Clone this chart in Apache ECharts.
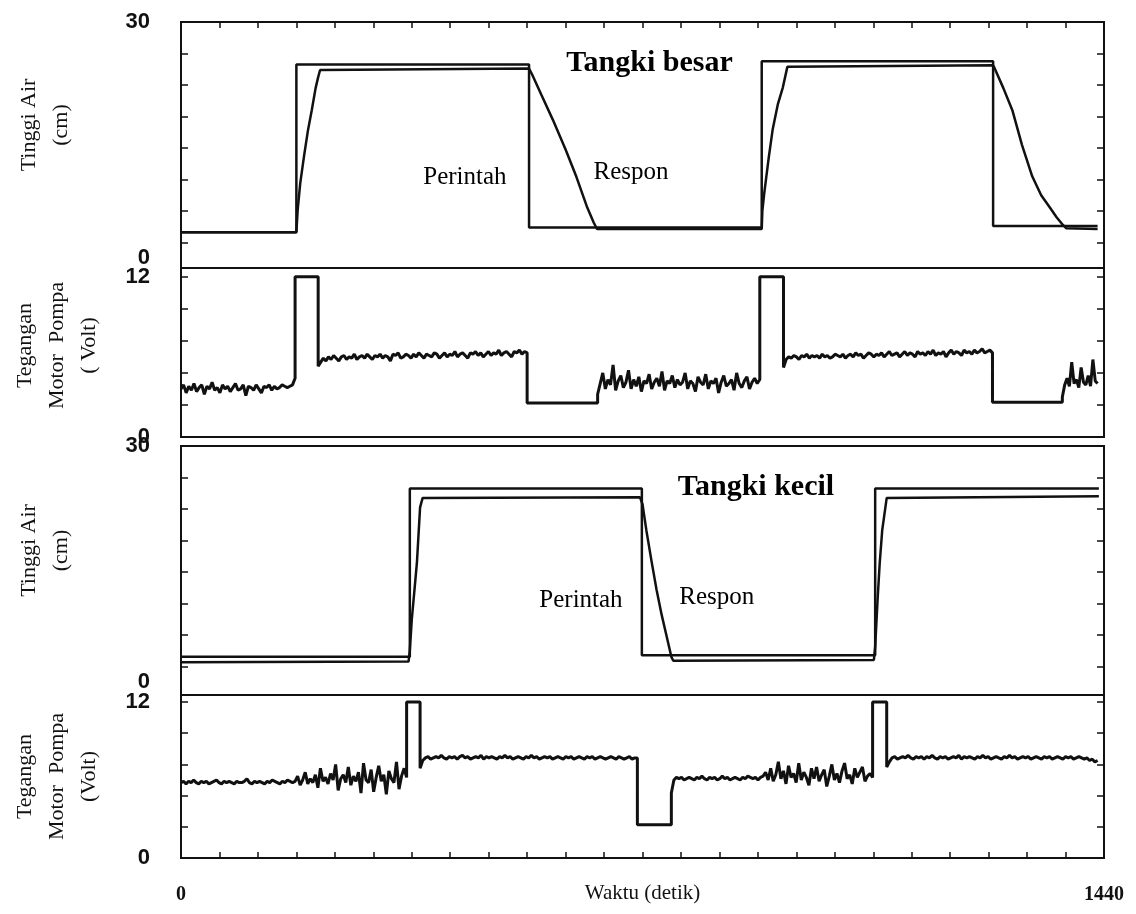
<!DOCTYPE html>
<html>
<head>
<meta charset="utf-8">
<script src="https://cdn.jsdelivr.net/npm/echarts@6/dist/echarts.min.js"></script>
<style>
  html, body { margin: 0; background: #fff; }
  #chart { width: 1136px; height: 914px; }
</style>
</head>
<body>
<div id="chart"></div>
<script>
// tangki besar: perintah (setpoint) & respon, cm
var besarPerintah = [[0, 3.3], [180, 3.3], [180, 24.6], [543, 24.6], [543, 3.9], [906, 3.9],
  [906, 25.0], [1267, 25.0], [1267, 4.1], [1430, 4.1]];
var besarRespon = [[0, 3.3], [180, 3.3], [182, 6.1], [186, 9.5], [192, 13.0], [198, 16.2], [204, 18.8],
  [210, 21.6], [214, 23.0], [217, 23.9], [543, 24.1], [548, 23.3], [562, 20.8], [580, 17.6], [600, 13.8],
  [617, 10.3], [633, 6.6], [644, 4.5], [649, 3.7], [906, 3.7], [907, 6.0], [910, 8.3], [917, 12.8],
  [923, 16.3], [931, 19.5], [939, 21.7], [946, 24.3], [1267, 24.5], [1269, 24.2], [1283, 21.6],
  [1297, 18.8], [1312, 14.4], [1328, 10.4], [1342, 8.0], [1355, 6.5], [1366, 5.2], [1374, 4.4],
  [1381, 3.8], [1430, 3.7]];

// tangki kecil
var kecilPerintah = [[0, 3.2], [357, 3.2], [357, 24.6], [719, 24.6], [719, 3.4], [1083, 3.4],
  [1083, 24.6], [1432, 24.6]];
var kecilRespon = [[0, 2.5], [355, 2.6], [357, 4.0], [360, 7.9], [364, 11.5], [368, 15.1], [373, 22.2],
  [377, 23.4], [716, 23.5], [720, 22.6], [726, 19.3], [734, 15.4], [742, 11.7], [750, 8.5], [758, 5.7],
  [765, 3.2], [768, 2.7], [1081, 2.8], [1083, 4.5], [1087, 10.8], [1090, 15.0], [1094, 19.3],
  [1101, 23.4], [1432, 23.6]];

// tegangan pompa, tangki besar (Volt)
var pompaBesarA = [3.6, 3.9, 3.3, 3.8, 3.5, 4.0, 3.4, 3.7, 3.9, 3.2, 3.8, 3.6, 4.1, 3.5, 3.7, 3.3, 3.9, 3.6,
  3.8, 3.4, 3.7, 4.0, 3.5, 3.6, 3.9, 3.1, 3.8, 3.7, 3.5, 3.9, 3.6, 3.3, 3.8, 3.7, 3.9, 3.5, 3.8, 3.6,
  3.7, 3.9, 3.8, 3.7, 3.8, 3.9, 4.4];
var pompaBesarB = [5.3, 5.6, 5.9, 5.7, 6.0, 5.8, 6.1, 5.9, 5.7, 6.0, 6.1, 5.8, 6.0, 5.9, 6.2, 5.8, 6.0, 6.1,
  5.9, 6.2, 6.0, 5.8, 6.1, 6.0, 6.2, 5.9, 6.1, 6.0, 5.7, 6.2, 6.1, 6.3, 5.9, 6.0, 6.2, 6.1, 5.9, 6.2,
  6.0, 6.3, 6.1, 5.9, 6.2, 6.1, 6.0, 6.3, 6.2, 5.9, 6.1, 6.3, 6.0, 6.2, 6.1, 6.4, 6.0, 6.2, 6.3, 6.1,
  5.9, 6.3, 6.2, 6.4, 6.1, 6.3, 6.0, 6.2, 6.4, 6.1, 6.3, 6.2, 6.5, 6.1, 6.3, 6.4, 6.2, 6.0, 6.4, 6.3,
  6.5, 6.2, 6.4, 6.3];
var pompaBesarD = [3.2, 4.0, 4.8, 3.6, 4.3, 3.9, 5.4, 3.5, 4.2, 4.6, 3.7, 4.1, 5.0, 3.6, 4.3, 3.8, 4.5, 3.4,
  4.2, 4.0, 4.7, 3.6, 4.1, 4.4, 3.8, 4.9, 3.5, 4.2, 4.0, 4.6, 3.7, 4.3, 3.9, 4.1, 4.8, 3.6, 4.2, 4.0,
  3.4, 4.5, 4.1, 3.9, 4.7, 3.6, 4.2, 4.0, 4.4, 3.3, 4.1, 4.6, 3.8, 4.0, 4.3, 3.5, 4.8, 4.0, 3.7, 4.2,
  4.5, 3.6, 4.1, 4.4, 4.0, 4.3];
var pompaBesarE = [5.2, 5.8, 6.0, 5.9, 6.1, 6.0, 5.8, 6.1, 6.0, 6.2, 5.9, 6.1, 6.0, 6.1, 5.9, 6.2, 6.0, 6.1,
  5.9, 6.0, 6.2, 6.1, 6.0, 6.2, 5.9, 6.1, 6.2, 6.0, 6.3, 6.1, 6.2, 5.9, 6.1, 6.3, 6.2, 6.0, 6.2, 6.1,
  6.3, 6.0, 6.2, 6.4, 6.1, 6.2, 6.3, 6.0, 6.2, 6.4, 6.1, 6.3, 6.2, 6.0, 6.4, 6.2, 6.3, 6.1, 6.4, 6.2,
  6.5, 6.1, 6.3, 6.2, 6.4, 6.0, 6.3, 6.5, 6.2, 6.4, 6.3, 6.1, 6.5, 6.3, 6.4, 6.2, 6.5, 6.3, 6.4, 6.6,
  6.3, 6.4, 6.5, 6.3];
var pompaBesarG = [3.0, 3.9, 4.4, 3.8, 5.6, 4.0, 4.3, 3.7, 5.2, 4.1, 3.9, 4.6, 3.8, 5.8, 4.2, 4.0];

// tegangan pompa, tangki kecil
var pompaKecilA = [5.8, 5.9, 5.7, 5.9, 5.8, 6.0, 5.8, 5.7, 5.9, 5.8, 5.9, 5.7, 5.8, 5.9, 6.0, 5.8, 5.7, 5.9,
  5.8, 5.9, 5.8, 5.7, 5.9, 5.8, 5.8, 5.9, 6.1, 5.8, 5.7, 5.9, 5.8, 5.9, 5.8, 5.7, 5.9, 5.8, 6.0, 5.9,
  5.8, 5.7, 5.9, 5.8, 6.0, 5.9, 5.8,
  5.9, 6.3, 5.6, 6.0, 6.6, 5.7, 6.1, 5.8, 6.4, 5.4, 6.9, 5.9, 6.2, 5.7, 6.5, 6.0, 7.2, 5.2, 6.1, 6.4,
  5.8, 7.0, 5.6, 6.3, 5.9, 6.6, 5.0, 7.3, 6.0, 5.8, 6.8, 5.1, 6.2, 7.1, 5.9, 6.4, 4.9, 6.7, 6.1, 5.8,
  7.4, 5.3, 6.3, 6.9, 6.2];
var pompaKecilB = [6.9, 7.5, 7.7, 7.8, 7.6, 7.7, 7.8, 7.7, 7.9, 7.7, 7.6, 7.8, 7.7, 7.8, 7.6, 7.8, 7.9, 7.7,
  7.8, 7.6, 7.7, 7.8, 7.7, 7.9, 7.6, 7.8, 7.7, 7.8, 7.7, 7.6, 7.8, 7.7, 7.9, 7.7, 7.8, 7.6, 7.7, 7.8,
  7.7, 7.6, 7.8, 7.7, 7.9, 7.7, 7.8, 7.6, 7.7, 7.8, 7.7, 7.8, 7.6, 7.7, 7.8, 7.7, 7.6, 7.8, 7.7, 7.8,
  7.6, 7.7, 7.8, 7.7, 7.6, 7.8, 7.7, 7.8, 7.6, 7.7, 7.8, 7.7, 7.6, 7.7, 7.8, 7.7, 7.6, 7.8, 7.7, 7.6,
  7.7, 7.8, 7.6, 7.7, 7.7];
var pompaKecilD = [5.0, 6.0, 6.2, 6.1, 6.2, 6.0, 6.1, 6.2, 6.1, 6.0, 6.2, 6.1, 6.3, 6.1, 6.0, 6.2, 6.1, 6.2,
  6.0, 6.1, 6.3, 6.1, 6.2, 6.0, 6.1, 6.2, 6.1, 6.0, 6.2, 6.1, 6.3, 6.2, 6.1, 6.2, 6.0, 6.2,
  6.3, 6.6, 6.0, 6.9, 5.9, 6.4, 7.4, 6.1, 6.7, 5.7, 7.1, 6.2, 6.5, 5.8, 7.3, 6.0, 6.6, 6.2, 5.6, 6.9,
  6.1, 7.0, 5.9, 6.4, 6.8, 5.5, 6.3, 7.2, 6.0, 6.5, 5.8, 6.7, 7.3, 6.1, 6.4, 5.7, 6.9, 6.2, 6.6, 7.0,
  5.9, 6.3, 6.5, 6.2];
var pompaKecilE = [7.0, 7.4, 7.7, 7.8, 7.6, 7.7, 7.8, 7.7, 7.9, 7.7, 7.6, 7.8, 7.7, 7.8, 7.6, 7.8, 7.7, 7.9,
  7.7, 7.6, 7.8, 7.7, 7.8, 7.6, 7.7, 7.8, 7.7, 7.9, 7.6, 7.8, 7.7, 7.8, 7.7, 7.6, 7.8, 7.7, 7.9, 7.7,
  7.8, 7.6, 7.7, 7.8, 7.7, 7.6, 7.8, 7.7, 7.9, 7.7, 7.8, 7.6, 7.7, 7.8, 7.7, 7.8, 7.6, 7.7, 7.8, 7.7,
  7.6, 7.8, 7.7, 7.8, 7.6, 7.7, 7.8, 7.7, 7.6, 7.8, 7.7, 7.8, 7.6, 7.7, 7.8, 7.7, 7.6, 7.7, 7.5, 7.6,
  7.4, 7.5];

// axis ticks / labels
var tinggiTicks = [2, 6, 10, 14, 18, 22, 26];
var teganganTicks = [2.4, 4.8, 7.2, 9.6, 12];
var tinggiLabels = [0, 30];
var teganganLabels = [0, 12];
var waktuLabels = [0, 1440];

var ink = '#111';
var serif = 'Liberation Serif';

// spread a run of readings evenly between two times
function seg(t0, t1, vals) {
  var step = (t1 - t0) / (vals.length - 1);
  return vals.map(function (v, i) { return [t0 + i * step, v]; });
}

var pompaBesar = [].concat(
  seg(0, 178, pompaBesarA), [[178, 12], [214, 12]],
  seg(214, 540, pompaBesarB), [[540, 2.55], [650, 2.55]],
  seg(650, 903, pompaBesarD), [[903, 12], [940, 12]],
  seg(940, 1266, pompaBesarE), [[1266, 2.6], [1375, 2.6]],
  seg(1375, 1430, pompaBesarG)
);
var pompaKecil = [].concat(
  seg(0, 352, pompaKecilA), [[352, 12], [373, 12]],
  seg(373, 712, pompaKecilB), [[712, 2.55], [765, 2.55]],
  seg(765, 1079, pompaKecilD), [[1079, 12], [1101, 12]],
  seg(1101, 1430, pompaKecilE)
);

var panels = [
  { top: 22, height: 246, min: -1.25, max: 30, ticks: tinggiTicks, labels: tinggiLabels,
    name: 'Tinggi Air\n(cm)', gap: 104, pad: [0, 0, 0, 40] },
  { top: 268, height: 169, min: 0, max: 12.65, ticks: teganganTicks, labels: teganganLabels,
    name: 'Tegangan\nMotor  Pompa\n( Volt)', gap: 76, pad: [0, 0, 0, 14] },
  { top: 446, height: 249, min: -1.65, max: 30, ticks: tinggiTicks, labels: tinggiLabels,
    name: 'Tinggi Air\n(cm)', gap: 104, pad: [0, 0, 0, 40] },
  { top: 695, height: 163, min: 0, max: 12.54, ticks: teganganTicks, labels: teganganLabels,
    name: 'Tegangan\nMotor  Pompa\n(Volt)', gap: 76, pad: [0, 0, 0, 0] }
];

var chart = echarts.init(document.getElementById('chart'));

function plain(v) { return String(v); }

var grids = [], xAxes = [], yAxes = [];
panels.forEach(function (p, i) {
  grids.push({
    left: 181, right: 32, top: p.top, height: p.height,
    show: true, borderColor: ink, borderWidth: 2, outerBoundsMode: 'none'
  });
  xAxes.push({
    gridIndex: i, type: 'value', min: 0, max: 1440, interval: 60,
    position: i === 0 ? 'top' : 'bottom',
    axisLine: { show: false, onZero: false },
    axisTick: { show: i === 0 || i === 3, inside: true, length: 6, lineStyle: { color: ink, width: 1.5 } },
    axisLabel: {
      show: i === 3, customValues: waktuLabels, margin: 27, formatter: plain,
      color: ink, fontFamily: serif, fontWeight: 'bold', fontSize: 20
    },
    splitLine: { show: false },
    name: i === 3 ? 'Waktu (detik)' : '',
    nameLocation: 'middle', nameGap: 25, nameMoveOverlap: false,
    nameTextStyle: { color: ink, fontFamily: serif, fontSize: 21 }
  });
  yAxes.push({
    gridIndex: i, type: 'value', min: p.min, max: p.max, position: 'left',
    axisLine: { show: false, onZero: false },
    axisTick: { show: true, inside: true, length: 7, customValues: p.ticks, lineStyle: { color: ink, width: 1.5 } },
    axisLabel: {
      customValues: p.labels, margin: 31, formatter: plain,
      color: ink, fontFamily: 'Liberation Sans', fontWeight: 'bold', fontSize: 22
    },
    splitLine: { show: false },
    name: p.name, nameLocation: 'middle', nameGap: p.gap, nameMoveOverlap: false,
    nameTextStyle: { color: ink, fontFamily: serif, fontSize: 22, lineHeight: 32, padding: p.pad }
  });
  yAxes.push({
    gridIndex: i, type: 'value', min: p.min, max: p.max, position: 'right',
    axisLine: { show: false, onZero: false },
    axisTick: { show: true, inside: true, length: 7, customValues: p.ticks, lineStyle: { color: ink, width: 1.5 } },
    axisLabel: { show: false },
    splitLine: { show: false }
  });
});

function trace(data, i, w) {
  return {
    type: 'line', xAxisIndex: i, yAxisIndex: i * 2, data: data,
    showSymbol: false, silent: true,
    lineStyle: { color: ink, width: w }
  };
}

function notes(i, items) {
  return {
    type: 'scatter', xAxisIndex: i, yAxisIndex: i * 2, symbolSize: 0, silent: true,
    itemStyle: { opacity: 1 },
    label: {
      show: true, position: 'inside', formatter: '{b}', opacity: 1,
      color: '#000', fontFamily: serif, fontSize: 25
    },
    data: items
  };
}

var judul = { fontSize: 30, fontWeight: 'bold', color: '#000' };

chart.setOption({
  animation: false,
  backgroundColor: '#fff',
  grid: grids,
  xAxis: xAxes,
  yAxis: yAxes,
  series: [
    trace(besarPerintah, 0, 2.5),
    trace(besarRespon, 0, 2.5),
    trace(pompaBesar, 1, 3),
    trace(kecilPerintah, 2, 2.5),
    trace(kecilRespon, 2, 2.5),
    trace(pompaKecil, 3, 3),
    notes(0, [
      { name: 'Tangki besar', value: [731, 24.8], label: judul },
      { name: 'Perintah', value: [443, 10.3] },
      { name: 'Respon', value: [702, 10.9] }
    ]),
    notes(2, [
      { name: 'Tangki kecil', value: [897, 24.7], label: judul },
      { name: 'Perintah', value: [624, 10.4] },
      { name: 'Respon', value: [836, 10.8] }
    ])
  ]
});
</script>
</body>
</html>
